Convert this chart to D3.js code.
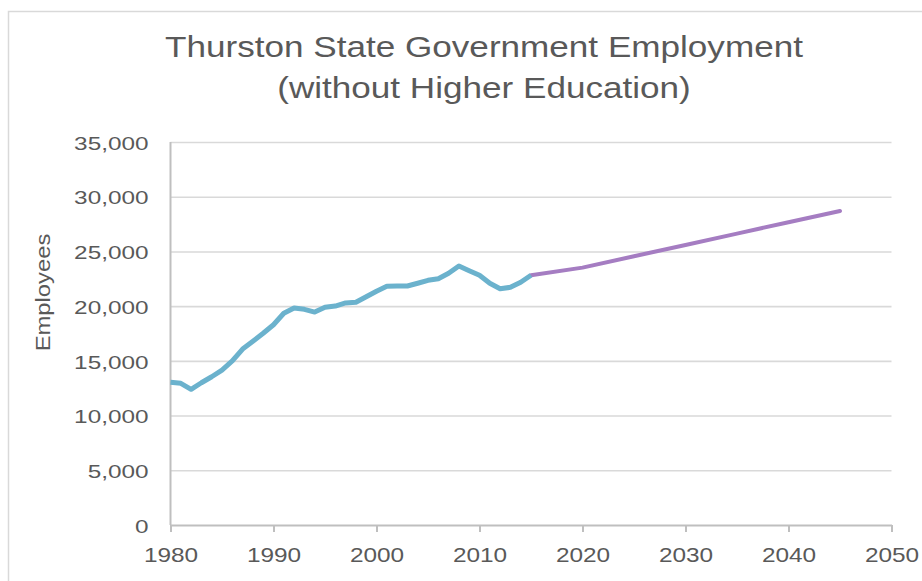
<!DOCTYPE html>
<html>
<head>
<meta charset="utf-8">
<script src="https://cdn.jsdelivr.net/npm/d3@7"></script>
<style>
  html, body { margin: 0; padding: 0; background: #ffffff; }
  svg { display: block; }
  text { font-family: "Liberation Sans", Arial, sans-serif; fill: #595959; }
</style>
</head>
<body>
<svg id="chart" width="922" height="581"></svg>
<script>
// Historical employment (annual)
const histYears = [1980, 1981, 1982, 1983, 1984, 1985, 1986, 1987, 1988, 1989,
                   1990, 1991, 1992, 1993, 1994, 1995, 1996, 1997, 1998, 1999,
                   2000, 2001, 2002, 2003, 2004, 2005, 2006, 2007, 2008, 2009,
                   2010, 2011, 2012, 2013, 2014, 2015];
const histValues = [13040, 12950, 12400, 13000, 13550, 14160, 14990, 16080, 16790, 17520,
                    18300, 19350, 19830, 19710, 19460, 19890, 20010, 20290, 20350, 20860,
                    21360, 21810, 21840, 21840, 22090, 22360, 22510, 23000, 23670, 23240,
                    22820, 22090, 21590, 21720, 22180, 22820];

// Forecast employment
const projYears = [2015, 2020, 2025, 2030, 2035, 2040, 2045];
const projValues = [22820, 23520, 24560, 25590, 26630, 27670, 28700];

// Axis ticks
const xTicks = [1980, 1990, 2000, 2010, 2020, 2030, 2040, 2050];
const yTicks = [0, 5000, 10000, 15000, 20000, 25000, 30000, 35000];

const titleLines = ["Thurston State Government Employment", "(without Higher Education)"];
const yAxisTitle = "Employees";

const svg = d3.select("#chart");
const plotLeft = 170.5, plotRight = 891.5, plotTop = 142, plotBottom = 525;

// widen glyphs to the typeface proportions used in this chart
function stretch(sel, factor) {
  sel.each(function () {
    const w = this.getComputedTextLength();
    d3.select(this).attr("textLength", w * factor).attr("lengthAdjust", "spacingAndGlyphs");
  });
}

// chart frame
svg.append("rect")
  .attr("x", 8.5).attr("y", 11.5)
  .attr("width", 950).attr("height", 600)
  .attr("fill", "none").attr("stroke", "#d9d9d9").attr("stroke-width", 1.5);

const x = d3.scaleLinear().domain([1980, 2050]).range([plotLeft, plotRight]);
const y = d3.scaleLinear().domain([0, 35000]).range([plotBottom, plotTop]);

// title
const title = svg.append("g");
title.selectAll("text").data(titleLines).join("text")
  .attr("x", 484)
  .attr("y", (d, i) => 57 + i * 41)
  .attr("text-anchor", "middle")
  .attr("font-size", 30)
  .text(d => d)
  .call(stretch, 1.17);

// y axis with gridlines
const yAxis = svg.append("g")
  .attr("transform", `translate(${plotLeft},0)`)
  .call(d3.axisLeft(y).tickValues(yTicks)
    .tickSizeInner(-(plotRight - plotLeft)).tickSizeOuter(0).tickPadding(22)
    .tickFormat(d3.format(",")));
yAxis.select(".domain").remove();
yAxis.selectAll(".tick line")
  .attr("stroke", "#d9d9d9").attr("stroke-width", 1.6)
  .filter(d => d === 0).remove();
yAxis.selectAll(".tick text")
  .attr("font-size", 19).attr("dy", "0.38em")
  .style("font-family", "'Liberation Sans', Arial, sans-serif").style("fill", "#595959")
  .call(stretch, 1.28);

// x axis
const xAxis = svg.append("g")
  .attr("transform", `translate(0,${plotBottom})`)
  .call(d3.axisBottom(x).tickValues(xTicks)
    .tickSizeInner(7).tickSizeOuter(0).tickPadding(14.6)
    .tickFormat(d3.format("d")));
xAxis.select(".domain").attr("stroke", "#bfbfbf").attr("stroke-width", 2);
xAxis.selectAll(".tick line").attr("stroke", "#bfbfbf").attr("stroke-width", 2);
xAxis.selectAll(".tick text")
  .attr("font-size", 21)
  .style("font-family", "'Liberation Sans', Arial, sans-serif").style("fill", "#595959")
  .call(stretch, 1.16);

// vertical axis line
svg.append("line")
  .attr("x1", plotLeft).attr("x2", plotLeft)
  .attr("y1", y(35000)).attr("y2", plotBottom)
  .attr("stroke", "#bfbfbf").attr("stroke-width", 2);

// y axis title
svg.append("text")
  .attr("transform", "translate(49.5,292.5) rotate(-90)")
  .attr("text-anchor", "middle")
  .attr("font-size", 20)
  .text(yAxisTitle)
  .call(stretch, 1.19);

const line = d3.line().x(d => x(d[0])).y(d => y(d[1]));

// forecast line
svg.append("path")
  .datum(d3.zip(projYears, projValues))
  .attr("d", line)
  .attr("fill", "none").attr("stroke", "#a57dc2")
  .attr("stroke-width", 4).attr("stroke-linejoin", "round").attr("stroke-linecap", "round");

// historical line
svg.append("path")
  .datum(d3.zip(histYears, histValues))
  .attr("d", line)
  .attr("fill", "none").attr("stroke", "#6bb2cd")
  .attr("stroke-width", 5).attr("stroke-linejoin", "round").attr("stroke-linecap", "butt");
</script>
</body>
</html>
